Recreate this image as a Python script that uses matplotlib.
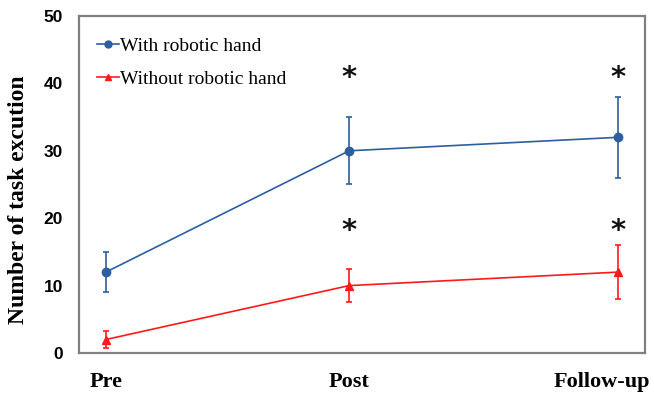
import matplotlib
matplotlib.use("Agg")
import matplotlib.pyplot as plt
from matplotlib.lines import Line2D
from matplotlib.transforms import ScaledTranslation

# Session labels and mean task counts with error bar half-widths
sessions = ["Pre", "Post", "Follow-up"]
with_hand = [12, 30, 32]
with_hand_err = [3, 5, 6]
without_hand = [2, 10, 12]
without_hand_err = [1.2, 2.5, 4]
y_ticks = [0, 10, 20, 30, 40, 50]

# Horizontal placement of the three sessions
xpos = [0, 0.95, 2]
# Heights of the significance asterisks for each series
star_with = 40.8
star_without = 18.1

blue = "#2C5EA0"
red = "#FF1A1A"
serif = "Liberation Serif"
sans = "Liberation Sans"

fig = plt.figure(figsize=(6.54, 3.93), dpi=100)
ax = fig.add_axes([0.1208, 0.1018, 0.8654, 0.8575])

ax.errorbar(xpos, with_hand, yerr=with_hand_err, color=blue, marker="o",
            markersize=6, linewidth=1.2, elinewidth=1.2, capsize=2.5, capthick=1.2)
ax.errorbar(xpos, without_hand, yerr=without_hand_err, color=red, marker="^",
            markersize=6, linewidth=1.2, elinewidth=1.2, capsize=2.5, capthick=1.2)

# Significance markers at the post-treatment sessions
for i in (1, 2):
    for level in (star_with, star_without):
        ax.text(xpos[i], level, "*", ha="center", va="center", fontsize=21,
                fontweight="bold", family="DejaVu Sans", color="#111111")

ax.set_xlim(-0.105, 2.105)
ax.set_ylim(0, 50)
ax.set_yticks(y_ticks)
ax.set_yticklabels([str(v) for v in y_ticks], fontsize=12.5, fontweight="bold",
                   family=sans)
ax.set_xticks(xpos)
ax.set_xticklabels(sessions, fontsize=16, fontweight="bold", family=serif)
ax.tick_params(axis="y", length=0, pad=11.5)
ax.tick_params(axis="x", length=0, pad=14)

# keep the last session label inside the figure
last = ax.get_xticklabels()[-1]
last.set_transform(last.get_transform() +
                   ScaledTranslation(-0.16, 0, fig.dpi_scale_trans))

ax.set_ylabel("Number of task excution", fontsize=17, fontweight="bold",
              family=serif)
ax.yaxis.set_label_coords(-0.088, 0.454)

for s in ax.spines.values():
    s.set_color("#808080")
    s.set_linewidth(1.6)

handles = [
    Line2D([], [], color=blue, marker="o", markersize=5, linewidth=1.2),
    Line2D([], [], color=red, marker="^", markersize=5, linewidth=1.2),
]
ax.legend(handles, ["With robotic hand", "Without robotic hand"],
          loc="upper left", bbox_to_anchor=(0.032, 0.938), frameon=False,
          prop={"family": serif, "size": 14}, handlelength=1.1,
          handletextpad=0.1, labelspacing=0.8, borderaxespad=0, borderpad=0)

fig.savefig("out.png", dpi=100)
